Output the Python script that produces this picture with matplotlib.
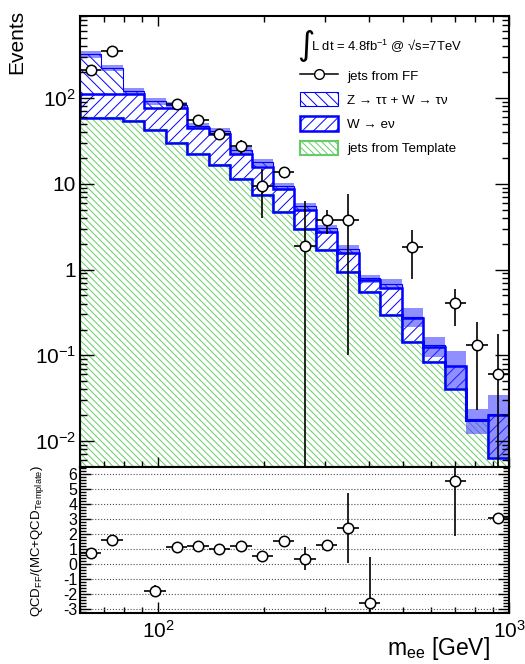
import numpy as np
import matplotlib
matplotlib.use('Agg')
import matplotlib.pyplot as plt
from matplotlib.patches import Patch
from matplotlib.lines import Line2D
from matplotlib.ticker import FixedLocator, FixedFormatter, NullFormatter, MultipleLocator

plt.rcParams['font.family'] = ['Liberation Sans', 'DejaVu Sans']
plt.rcParams['mathtext.fontset'] = 'custom'
plt.rcParams['mathtext.rm'] = 'Liberation Sans'
plt.rcParams['mathtext.it'] = 'Liberation Sans:italic'
plt.rcParams['axes.unicode_minus'] = False
plt.rcParams['hatch.linewidth'] = 0.7

# 20 log-spaced m_ee bins from 60 GeV to 1 TeV
edges = np.geomspace(60, 1000, 21)
centers = np.sqrt(edges[:-1] * edges[1:])

# stacked backgrounds (events per bin)
template = np.array([58.8, 57.7, 53.7, 41.8, 29.7, 22.1, 16.3, 11.4, 7.31, 4.67,
                     2.99, 1.70, 0.933, 0.546, 0.297, 0.143, 0.0834, 0.0401, 0.0175, 0.0064])
w_enu = np.array([51, 52, 56, 35, 47, 22, 22, 11, 8.3, 4.1,
                  1.9, 1.03, 0.64, 0.21, 0.32, 0.13, 0.041, 0.035, 0.0002, 0.014])
z_tautau = np.array([215, 115, 12, 14, 7, 3, 2.4, 2.0, 2.1, 0.55,
                     0.54, 0.28, 0.14, 0.03, 0.07, 0.01, 0.006, 0.001, 0.0003, 0.0002])
mc_err = np.array([30, 18, 10, 9, 6, 4, 3.5, 2.5, 1.8, 0.8,
                   0.6, 0.3, 0.2, 0.08, 0.08, 0.07, 0.035, 0.036, 0.006, 0.014])

# fake-factor estimate
nan = np.nan
ff = np.array([209, 351, nan, -164, 85.5, 54.7, 38.3, 27.4, 9.5, 13.6,
               1.87, 3.8, 3.8, -2.1, nan, 1.82, nan, 0.41, 0.133, 0.061])
ff_err = np.array([12, 15, 0, 40, 5, 4, 3.5, 5, 5.5, 1.5,
                   4.5, 1.2, 3.7, 2.4, 0, 1.05, 0, 0.19, 0.11, 0.114])

# QCD_FF / (MC + QCD_Template)
ratio = np.array([0.7, 1.6, nan, -1.8, 1.09, 1.22, 0.98, 1.18, 0.55, 1.55,
                  0.35, 1.25, 2.38, -2.62, nan, nan, nan, 5.51, nan, 3.07])
ratio_err = np.array([0.05, 0.1, 0, 0.4, 0.1, 0.1, 0.1, 0.2, 0.3, 0.15,
                      0.75, 0.25, 2.33, 3.1, 0, 0, 0, 3.64, 0, 0.05])

blue = (0, 0, 1)
green = (0.4, 0.8, 0.4)
floor = 1e-4

w_top = template + w_enu
total = w_top + z_tautau

fig = plt.figure(figsize=(5.25, 6.64), dpi=100)
ax = fig.add_axes([0.1524, 0.2967, 0.8171, 0.6792])
axr = fig.add_axes([0.1524, 0.0773, 0.8171, 0.2194])
for a in (ax, axr):
    a.set_xscale('log')
    a.set_xlim(60, 1000)

# hatched stack
ax.stairs(template, edges, baseline=floor, fill=True, facecolor='none',
          edgecolor=green, hatch='\\\\\\\\\\', linewidth=0)
ax.stairs(w_top, edges, baseline=template, fill=True, facecolor='none',
          edgecolor=blue, hatch='///', linewidth=0)
ax.stairs(total, edges, baseline=w_top, fill=True, facecolor='none',
          edgecolor=blue, hatch='\\\\\\', linewidth=0)

# MC uncertainty band
lower = np.clip(total - mc_err, floor, None)
ax.stairs(total + mc_err, edges, baseline=lower, fill=True,
          facecolor=(0.2, 0.2, 1, 0.55), linewidth=0)

ax.stairs(template, edges, baseline=floor, color=green, lw=1.6)
ax.stairs(w_top, edges, baseline=template, color=blue, lw=1.8)
ax.stairs(total, edges, baseline=w_top, color=blue, lw=0.8)

xlo = centers - edges[:-1]
xhi = edges[1:] - centers
pos = ff > 0
ax.errorbar(centers[pos], ff[pos], yerr=ff_err[pos], xerr=[xlo[pos], xhi[pos]],
            fmt='o', ms=7.5, mfc='white', mec='k', mew=1.1, color='k',
            elinewidth=1.2, capsize=0, zorder=5)

ax.set_yscale('log')
ax.set_ylim(0.005, 900)
ax.yaxis.set_major_locator(FixedLocator([0.01, 0.1, 1, 10, 100]))
ax.yaxis.set_major_formatter(FixedFormatter(['$10^{-2}$', '$10^{-1}$', '1', '10', '$10^{2}$']))
yminor = [m * 10.0 ** e for e in range(-3, 3) for m in range(2, 10)]
ax.yaxis.set_minor_locator(FixedLocator(yminor))
ax.yaxis.set_minor_formatter(NullFormatter())
xmajor = [100, 1000]
xminor = [60, 70, 80, 90, 200, 300, 400, 500, 600, 700, 800, 900]
for a in (ax, axr):
    a.xaxis.set_major_locator(FixedLocator(xmajor))
    a.xaxis.set_minor_locator(FixedLocator(xminor))
    a.xaxis.set_minor_formatter(NullFormatter())
    for s in a.spines.values():
        s.set_linewidth(1.5)
ax.tick_params(axis='x', which='both', labelbottom=False)
ax.tick_params(which='both', direction='in', top=True, right=True, width=1)
ax.tick_params(axis='y', which='major', length=10, labelsize=15, pad=3)
ax.tick_params(axis='y', which='minor', length=5)
ax.tick_params(axis='x', which='major', length=7)
ax.tick_params(axis='x', which='minor', length=4)

# legend and luminosity label
ax.text(0.505, 0.935, '\u222b', transform=ax.transAxes, fontsize=24,
        ha='left', va='center', family=['DejaVu Sans'])
ax.text(0.538, 0.933, 'L dt = 4.8fb$^{-1}$ @ \u221as=7TeV', transform=ax.transAxes,
        fontsize=9.4, ha='left', va='center')
handles = [Line2D([], [], color='k', marker='o', mfc='white', mec='k', ms=7, lw=1.1),
           Patch(facecolor='white', edgecolor=blue, hatch='\\\\\\', lw=0.8),
           Patch(facecolor='white', edgecolor=blue, hatch='///', lw=1.8),
           Patch(facecolor='white', edgecolor=green, hatch='\\\\\\\\\\', lw=1.5)]
labels = ['jets from FF', 'Z \u2192 \u03c4\u03c4 + W \u2192 \u03c4\u03bd',
          'W \u2192 e\u03bd', 'jets from Template']
ax.legend(handles, labels, loc='upper left', bbox_to_anchor=(0.513, 0.885),
          frameon=False, fontsize=9.6, borderpad=0, borderaxespad=0,
          handlelength=2.85, handleheight=1.28, labelspacing=0.72, handletextpad=0.7)

# ratio panel
axr.errorbar(centers, ratio, yerr=ratio_err, xerr=[xlo, xhi], fmt='o', ms=7.5,
             mfc='white', mec='k', mew=1.1, color='k', elinewidth=1.2, capsize=0, zorder=5)
axr.set_ylim(-3.25, 6.45)
axr.yaxis.set_major_locator(FixedLocator(range(-3, 7)))
axr.yaxis.set_minor_locator(MultipleLocator(0.2))
axr.xaxis.set_major_formatter(FixedFormatter(['$10^{2}$', '$10^{3}$']))
axr.grid(axis='y', which='major', linestyle=':', color='0.3', lw=0.8)
axr.tick_params(which='both', direction='in', right=True, width=1)
axr.tick_params(axis='y', which='major', length=8, labelsize=11.5, pad=2)
axr.tick_params(axis='y', which='minor', length=4)
axr.tick_params(axis='x', which='major', length=8, labelsize=15, pad=5)
axr.tick_params(axis='x', which='minor', length=4)

fig.text(17 / 525, 1 - 10 / 664, 'Events', rotation=90, ha='center', va='top', fontsize=15)
fig.text(38 / 525, 1 - 541 / 664, 'QCD$_{\\rm FF}$/(MC+QCD$_{\\rm Template}$)',
         rotation=90, ha='center', va='center', fontsize=9.5)
fig.text(490 / 525, 1 - 662 / 664, 'm$_{\\rm ee}$ [GeV]', ha='right', va='bottom', fontsize=16.5)

fig.savefig('out.png', dpi=100)
